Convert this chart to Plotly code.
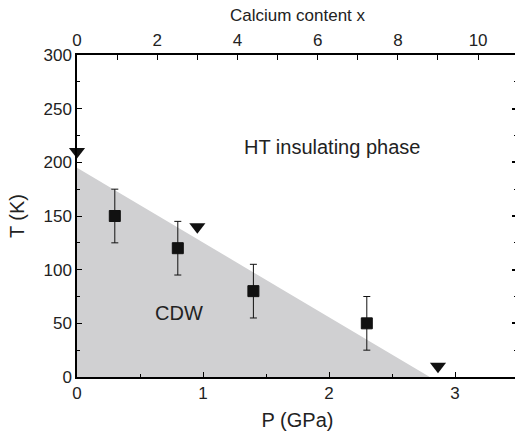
import plotly.graph_objects as go

# Data
p_cdw = [0.3, 0.8, 1.4, 2.3]
t_cdw = [150, 120, 80, 50]
t_err = [25, 25, 25, 25]

ca_x = [0, 3, 9]
t_ca = [210, 140, 10]

shade_p = [0, 0, 2.8, 0]
shade_t = [0, 195, 0, 0]

FONT = "Liberation Sans, Arial, Helvetica, sans-serif"

fig = go.Figure()
fig.add_trace(go.Scatter(x=shade_p, y=shade_t, fill="toself", fillcolor="#d0d0d2",
                         line=dict(width=0), mode="lines", hoverinfo="skip", showlegend=False))
fig.add_trace(go.Scatter(x=p_cdw, y=t_cdw, mode="markers",
                         marker=dict(symbol="square", size=11, color="#111111",
                                     line=dict(width=1, color="#111111")),
                         error_y=dict(type="data", array=t_err, visible=True, color="#111111",
                                      thickness=1, width=3.5),
                         showlegend=False))
fig.add_trace(go.Scatter(x=ca_x, y=t_ca, xaxis="x2", yaxis="y2", mode="markers",
                         cliponaxis=False,
                         marker=dict(symbol="triangle-down", size=14, color="#111111"),
                         showlegend=False))

axis_common = dict(showgrid=False, zeroline=False, linecolor="black", linewidth=1.5,
                   ticks="inside", tickcolor="black", tickwidth=1.2, ticklen=5,
                   automargin=False,
                   tickfont=dict(family=FONT, size=17, color="#222"))

fig.update_layout(
    width=518, height=435,
    margin=dict(l=77, r=0, t=55, b=58),
    plot_bgcolor="white", paper_bgcolor="white",
    font=dict(family=FONT, color="#222"),
    xaxis=dict(range=[0, 3.5], dtick=1, tick0=0,
               minor=dict(dtick=0.5, ticks="inside", ticklen=3, tickcolor="black", tickwidth=1.2),
               title=dict(text="P (GPa)", font=dict(size=20), standoff=11),
               showline=True, **axis_common),
    xaxis2=dict(range=[0, 10.995], dtick=2, tick0=0, overlaying="x", side="top", anchor="y",
                minor=dict(dtick=1, ticks="inside", ticklen=5, tickcolor="black", tickwidth=1.2),
                title=dict(text="Calcium content x", font=dict(size=17), standoff=6),
                showline=True, **axis_common),
    yaxis=dict(range=[0, 300], dtick=50, tick0=0,
               minor=dict(dtick=25, ticks="inside", ticklen=3, tickcolor="black", tickwidth=1.2),
               title=dict(text="T (K)", font=dict(size=20), standoff=13),
               showline=True, **axis_common),
    yaxis2=dict(range=[0, 300], dtick=50, tick0=0, overlaying="y", side="right", anchor="x",
                showticklabels=False, showgrid=False, zeroline=False, showline=False,
                ticks="inside", ticklen=6, tickcolor="black", tickwidth=1.5,
                minor=dict(dtick=25, ticks="inside", ticklen=4, tickcolor="black", tickwidth=1.2)),
    annotations=[
        dict(x=2.02, y=214, xref="x", yref="y", text="HT insulating phase", showarrow=False,
             font=dict(family=FONT, size=20, color="#222")),
        dict(x=0.81, y=60, xref="x", yref="y", text="CDW", showarrow=False,
             font=dict(family=FONT, size=20, color="#222")),
    ],
)

fig.write_html("out.html", config={"displayModeBar": False},
               post_script="document.body.style.margin='0';document.body.style.overflow='hidden';")
